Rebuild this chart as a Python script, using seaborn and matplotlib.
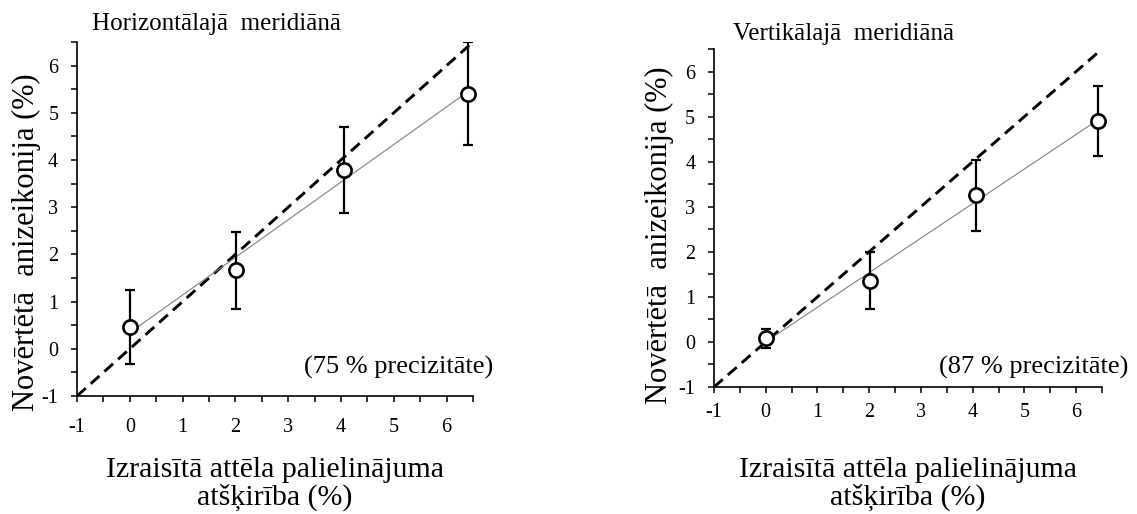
import numpy as np
import pandas as pd
import matplotlib
matplotlib.use("Agg")
import matplotlib.pyplot as plt
from matplotlib.ticker import MultipleLocator
import seaborn as sns

# ---- data ----
titles = ["Horizontālajā  meridiānā", "Vertikālajā  meridiānā"]
notes = ["(75 % precizitāte)", "(87 % precizitāte)"]
x_h = [0.0, 2.01, 4.06, 6.40]
y_h = [0.46, 1.66, 3.79, 5.40]
err_h = [0.78, 0.82, 0.91, 1.09]
x_v = [0.0, 2.01, 4.06, 6.42]
y_v = [0.08, 1.36, 3.25, 4.90]
err_v = [0.21, 0.64, 0.79, 0.77]
diag_end = [6.45, 6.5]
tick_vals = [-1, 0, 1, 2, 3, 4, 5, 6]
xlabel = "Izraisītā attēla palielinājuma\natšķirība (%)"
ylabel = "Novērtētā  anizeikonija (%)"

sns.set_theme(style="ticks")
plt.rcParams["font.family"] = ["Liberation Serif", "DejaVu Serif"]
plt.rcParams["axes.linewidth"] = 1.2

W, H = 1137, 514
fig = plt.figure(figsize=(W / 100, H / 100), dpi=100)

# axes boxes in pixels: (x0, x1, ytop, ybottom)
boxes = [(77, 473, 42, 396), (714, 1102, 49, 387)]
series = [(x_h, y_h, err_h), (x_v, y_v, err_v)]
title_pos = [(92, 24), (733, 34)]
note_pos = [(493, 367), (1128, 367)]
ylab_pos = [(26, 242), (659, 235)]
xpads = [11, 7]

for i in range(2):
    x0, x1, yt, yb = boxes[i]
    ax = fig.add_axes([x0 / W, 1 - yb / H, (x1 - x0) / W, (yb - yt) / H])
    xs, ys, es = series[i]
    df = pd.DataFrame({"x": xs, "y": ys, "e": es})

    # identity line
    diag = pd.DataFrame({"x": [-1.0, diag_end[i]], "y": [-1.0, diag_end[i]]})
    sns.lineplot(data=diag, x="x", y="y", ax=ax, color="black", lw=2.1,
                 zorder=2)
    ax.lines[-1].set_dashes((4, 2.3))

    # regression line over data range
    k, b = np.polyfit(xs, ys, 1)
    fit = pd.DataFrame({"x": [min(xs), max(xs)]})
    fit["y"] = k * fit["x"] + b
    sns.lineplot(data=fit, x="x", y="y", ax=ax, color="#808080", lw=0.8, zorder=3)

    ax.errorbar(df["x"], df["y"], yerr=df["e"], fmt="none", ecolor="black",
                elinewidth=1.6, capsize=3.5, capthick=1.6, zorder=4)
    sns.scatterplot(data=df, x="x", y="y", ax=ax, s=105, marker="o",
                    facecolor="white", edgecolor="black", linewidth=1.9,
                    zorder=5, clip_on=False)

    ax.set_xlim(-1, 6.5)
    ax.set_ylim(-1, 6.5)
    ax.set_xticks(tick_vals)
    ax.set_yticks(tick_vals)
    ax.set_xticklabels([str(t) for t in tick_vals])
    ax.set_yticklabels([str(t) for t in tick_vals])
    ax.xaxis.set_minor_locator(MultipleLocator(0.5))
    ax.yaxis.set_minor_locator(MultipleLocator(0.5))
    ax.tick_params(which="both", direction="out", length=4.5, width=1.1,
                   color="black", labelsize=14.5, labelcolor="black")
    ax.tick_params(axis="x", which="major", pad=xpads[i])
    ax.tick_params(axis="y", which="major", pad=9)
    ax.set_xlabel("")
    ax.set_ylabel("")
    sns.despine(ax=ax)
    for s in ["left", "bottom"]:
        ax.spines[s].set_color("black")
    ax.patch.set_alpha(0)

    tx, ty = title_pos[i]
    fig.text(tx / W, 1 - ty / H, titles[i], ha="left", va="center",
             fontsize=18, color="black")
    nx, ny = note_pos[i]
    fig.text(nx / W, 1 - ny / H, notes[i], ha="right", va="center",
             fontsize=19, color="black")
    lx, ly = ylab_pos[i]
    fig.text(lx / W, 1 - ly / H, ylabel, rotation=90, ha="center",
             va="center", fontsize=22, color="black")
    cx = (x0 + x1) / 2
    fig.text(cx / W, 1 - 484 / H, xlabel, ha="center", va="center",
             fontsize=21.5, color="black", linespacing=1.05)

fig.savefig("out.png", dpi=100, facecolor="white")
